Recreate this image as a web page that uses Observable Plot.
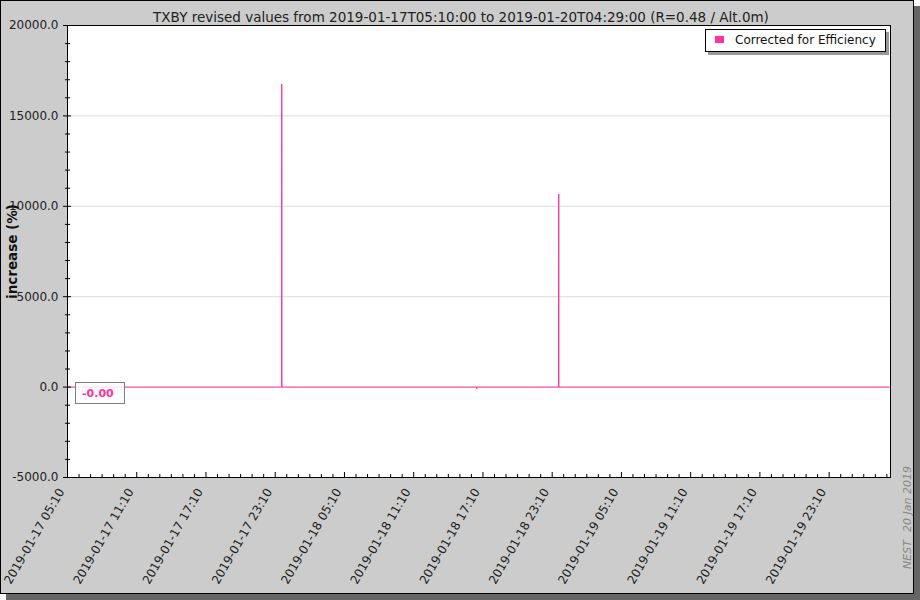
<!DOCTYPE html>
<html>
<head>
<meta charset="utf-8">
<script src="https://cdn.jsdelivr.net/npm/d3@7"></script>
<script src="https://cdn.jsdelivr.net/npm/@observablehq/plot@0.6"></script>
<style>
  html, body { margin: 0; padding: 0; background: #ffffff; }
  #chart {
    position: absolute; left: 0; top: 0; width: 914px; height: 594px;
    box-sizing: border-box; border: 1px solid #000; background: #cccccc;
    box-shadow: 6px 6px 0 #666666; font-family: "DejaVu Sans", sans-serif;
  }
  #chart svg { position: absolute; left: 0; top: 0; }
  #legend {
    position: absolute; left: 704px; top: 28px; width: 181px; height: 23px;
    box-sizing: border-box; border: 1px solid #000; background: #fff;
    box-shadow: 3px 3px 0 #999999; font-size: 12px; color: #111;
  }
  #legend .sw { position: absolute; left: 9px; top: 6px; width: 9px; height: 7px; background: #ff3399; }
  #legend .lb { position: absolute; left: 29px; top: 3px; white-space: nowrap; }
  #vbox {
    position: absolute; left: 74px; top: 381px; width: 50px; height: 22px;
    box-sizing: border-box; border: 1px solid #808080; background: rgba(255,255,255,0.85);
    font-size: 11px; font-weight: bold; color: #ff3399;
  }
  #vbox span { position: absolute; left: 6px; top: 4px; }
</style>
</head>
<body>
<div id="chart"></div>
<script>
// ---- data ----
const titleText = "TXBY revised values from 2019-01-17T05:10:00 to 2019-01-20T04:29:00 (R=0.48 / Alt.0m)";
const yLabel = "increase (%)";
const seriesName = "Corrected for Efficiency";
const times = [
  "2019-01-17T05:10", "2019-01-17T23:43", "2019-01-17T23:44", "2019-01-17T23:45",
  "2019-01-18T16:37", "2019-01-18T16:38", "2019-01-18T16:39",
  "2019-01-18T23:43", "2019-01-18T23:44", "2019-01-18T23:45", "2019-01-20T04:29"
];
const values = [0, 0, 16760, 0, 0, -100, 0, 0, 10680, 0, 0];
const xTickLabels = [
  "2019-01-17 05:10", "2019-01-17 11:10", "2019-01-17 17:10", "2019-01-17 23:10",
  "2019-01-18 05:10", "2019-01-18 11:10", "2019-01-18 17:10", "2019-01-18 23:10",
  "2019-01-19 05:10", "2019-01-19 11:10", "2019-01-19 17:10", "2019-01-19 23:10"
];
const yMajor = [-5000, 0, 5000, 10000, 15000, 20000];
const lastValueLabel = "-0.00";
const footerLeft = "NEST";
const footerRight = "20 Jan 2019";

// ---- build ----
const parse = s => new Date(s.replace(" ", "T") + ":00Z");
const data = times.map((t, i) => ({time: parse(t), value: values[i]}));
const xStart = parse("2019-01-17T05:10");
const xEnd = parse("2019-01-20T04:29");
const xMajor = xTickLabels.map(parse);
const xMinor = d3.range(0, 72).map(i => d3.utcHour.offset(xStart, i)).filter(d => !xMajor.some(m => +m === +d));
const yMinor = d3.range(-5000, 20001, 1000).filter(v => !yMajor.includes(v));

const W = 912, H = 592, ML = 66, MR = 23, MT = 24, MB = 116;
const fw = W - ML - MR, fh = H - MT - MB;

const chart = Plot.plot({
  width: W, height: H,
  marginLeft: ML, marginRight: MR, marginTop: MT, marginBottom: MB,
  x: {type: "utc", domain: [xStart, xEnd]},
  y: {domain: [-5000, 20000]},
  style: {background: "transparent", fontFamily: "DejaVu Sans, sans-serif", fontSize: "12px", color: "#222"},
  marks: [
    Plot.frame({fill: "white", stroke: null}),
    Plot.gridY(yMajor, {stroke: "#dddddd", strokeOpacity: 1}),
    Plot.lineY(data, {x: "time", y: "value", stroke: "#ff3399", strokeWidth: 1}),
    Plot.frame({stroke: "black"}),
    Plot.ruleX(xMajor, {stroke: "black", insetTop: fh - 5}),
    Plot.ruleX(xMinor, {stroke: "black", insetTop: fh - 3}),
    Plot.ruleY(yMajor, {stroke: "black", insetRight: fw - 8, dx: -4}),
    Plot.ruleY(yMinor, {stroke: "black", insetRight: fw - 5, dx: -2}),
    Plot.axisY({ticks: yMajor, tickSize: 0, tickPadding: 9, tickFormat: d => d.toFixed(1), label: null, fontSize: 12}),
    Plot.axisX({ticks: xMajor, tickSize: 0, tickPadding: 8, tickRotate: -60, dx: -6, dy: 4, tickFormat: d3.utcFormat("%Y-%m-%d %H:%M"), label: null, fontSize: 12}),
    Plot.text([yLabel], {frameAnchor: "left", textAnchor: "middle", dx: -55, rotate: -90, fontWeight: "bold", fontSize: 13.5, fill: "#111"}),
    Plot.text([titleText], {frameAnchor: "top", textAnchor: "middle", dy: -13, dx: -18, fontSize: 13.5, fill: "#222"})
  ]
});

const el = document.getElementById("chart");
el.appendChild(chart);

const svg = d3.select(chart);
svg.append("text").attr("transform", "translate(910,568) rotate(-90)")
  .attr("text-anchor", "start")
  .attr("font-size", 11).attr("font-style", "italic").attr("fill", "#888").attr("font-family", "DejaVu Sans")
  .text(footerLeft);
svg.append("text").attr("transform", "translate(910,531) rotate(-90)")
  .attr("text-anchor", "start")
  .attr("font-size", 11).attr("font-style", "italic").attr("fill", "#888").attr("font-family", "DejaVu Sans")
  .text(footerRight);

const legend = document.createElement("div");
legend.id = "legend";
legend.innerHTML = `<div class="sw"></div><div class="lb">${seriesName}</div>`;
el.appendChild(legend);

const vbox = document.createElement("div");
vbox.id = "vbox";
vbox.innerHTML = `<span>${lastValueLabel}</span>`;
el.appendChild(vbox);
</script>
</body>
</html>
